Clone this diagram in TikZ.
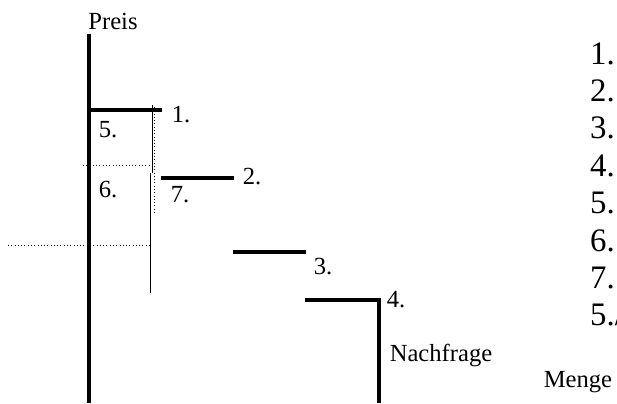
\documentclass[tikz,border=0pt]{standalone}
\usepackage{fontspec}
\setmainfont{Liberation Serif}
\usetikzlibrary{positioning}
\tikzset{bar/.style = {line width = 3.4pt},
  dots/.style = {line width = 0.8pt, dotted},
  lbl/.style = {inner sep = 0, font = \fontsize{21}{24}\selectfont},
  item/.style = {inner sep = 0, anchor = west, font = \fontsize{28}{32}\selectfont}}
\definecolor{mblue}{rgb}{0, 0, 1}

\begin{document}
\begin{tikzpicture}[x = 0.3mm, y = -0.3mm]
      \useasboundingbox (0, 0) rectangle (617, 403);

      \draw [bar] (89, 34) -- (89, 403);
      \draw [bar] (89, 110) -- (162, 110);
      \draw [bar] (161, 178) -- (234, 178);
      \draw [bar] (233, 252) -- (306, 252);
      \draw [bar] (305, 300) -- (379, 300) -- (379, 403);

      \draw [line width = 0.7pt] (152, 105) -- (152, 173);
      \draw [line width = 0.7pt] (150, 173) -- (150, 293);
      \draw [dots] (154, 107) -- (154, 213);
      \draw [dots, mblue] (83, 165) -- (152, 165);
      \draw [dots] (8, 245) -- (150, 245);

      \node [lbl] (preis) at (113, 21) {Preis};
      \node [lbl] (l1) at (181, 115) {1.};
      \node [lbl] (l2) at (252, 177) {2.};
      \node [lbl] (l3) at (323, 267) {3.};
      \node [lbl] (l4) at (396, 300) {4.};
      \node [lbl] (l5) at (108, 130) {5.};
      \node [lbl] (l6) at (108, 190) {6.};
      \node [lbl] (l7) at (180, 195) {7.};
      \node [lbl] (nachfrage) at (441, 355) {Nachfrage};
      \node [lbl] (menge) at (578, 382) {Menge};

      \foreach \t [count = \i] in {1., 2., 3., 4., 5., 6., 7., 5./} {
        \node [item] (i\i) at (590, 16 + 37.4 * \i) {\t};
      }

    \end{tikzpicture}
\end{document}
